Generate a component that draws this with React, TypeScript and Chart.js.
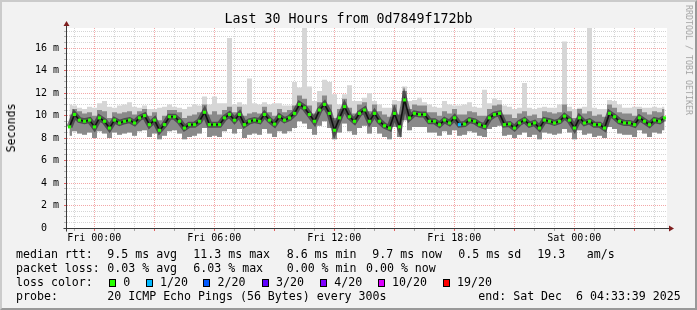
import { useEffect, useRef } from "react";
import { Chart, registerables } from "chart.js";

Chart.register(...registerables);

// ---- time axis (hours relative to Fri 00:00) ----
const START_HOUR = -1.365;
const END_HOUR = 28.635;
const STEP_HOURS = 0.25;

const xTickHours = [0, 6, 12, 18, 24];
const xTickLabels = ["Fri 00:00", "Fri 06:00", "Fri 12:00", "Fri 18:00", "Sat 00:00"];

const yTickValues = [0, 2, 4, 6, 8, 10, 12, 14, 16];
const yTickLabels = ["0  ", "2 m", "4 m", "6 m", "8 m", "10 m", "12 m", "14 m", "16 m"];

// ---- values in ms ----
const medianRtt = [
  9.0, 10.1, 9.6, 9.5, 9.6, 9.0, 9.8, 9.5, 8.9, 9.6,
  9.35, 9.5, 9.6, 9.35, 9.8, 10.0, 9.2, 9.6, 8.7, 9.2,
  9.9, 9.9, 9.5, 8.9, 9.2, 9.2, 9.5, 10.3, 9.2, 9.2,
  9.2, 9.8, 10.1, 9.6, 10.1, 9.2, 9.5, 9.6, 9.5, 10.1,
  9.6, 9.25, 9.9, 9.6, 9.8, 10.2, 11.0, 10.7, 10.1, 9.5,
  10.5, 11.0, 10.2, 8.7, 9.8, 10.8, 9.9, 9.5, 10.2, 10.5,
  9.5, 10.2, 9.5, 9.1, 8.9, 10.2, 9.0, 11.4, 9.8, 10.2,
  10.1, 10.1, 9.5, 9.5, 9.2, 9.6, 9.35, 9.8, 9.2, 9.25,
  9.6, 9.5, 9.2, 9.05, 9.8, 10.1, 10.2, 9.2, 9.25, 8.9,
  9.35, 9.6, 9.2, 9.35, 8.9, 9.6, 9.5, 9.35, 9.5, 9.95,
  9.6, 8.9, 9.8, 9.35, 9.5, 9.2, 9.2, 8.9, 10.2, 9.9,
  9.5, 9.35, 9.35, 9.2, 9.8, 9.5, 9.2, 9.6, 9.5, 9.8,
];

const smokeLow = [
  8.2, 8.6, 8.4, 8.3, 8.5, 8.0, 8.6, 8.4, 8.0, 8.5,
  8.3, 8.4, 8.5, 8.2, 8.6, 8.7, 8.1, 8.4, 7.9, 8.2,
  8.6, 8.7, 8.4, 7.9, 8.1, 8.2, 8.4, 8.9, 8.1, 8.2,
  8.1, 8.6, 8.8, 8.4, 8.8, 8.0, 8.3, 8.4, 8.3, 8.8,
  8.4, 8.1, 8.6, 8.4, 8.6, 8.9, 9.5, 9.3, 8.8, 8.3,
  9.1, 9.5, 8.9, 7.9, 8.5, 9.3, 8.6, 8.3, 8.9, 9.1,
  8.4, 9.0, 8.4, 8.1, 7.9, 9.0, 8.1, 9.6, 8.7, 9.0,
  9.0, 9.0, 8.5, 8.5, 8.2, 8.6, 8.3, 8.7, 8.2, 8.3,
  8.6, 8.5, 8.2, 8.1, 8.8, 9.0, 9.1, 8.2, 8.3, 8.0,
  8.3, 8.5, 8.1, 8.3, 7.9, 8.5, 8.4, 8.3, 8.4, 8.8,
  8.5, 7.9, 8.7, 8.3, 8.4, 8.1, 8.2, 8.0, 9.0, 8.8,
  8.4, 8.3, 8.3, 8.1, 8.7, 8.4, 8.1, 8.5, 8.4, 8.7,
];

const smokeDarkHigh = [
  10.1, 10.6, 10.4, 10.2, 10.3, 10.0, 10.5, 10.4, 9.8, 10.3,
  10.2, 10.3, 10.4, 10.1, 10.4, 10.6, 10.0, 10.3, 9.6, 10.0,
  10.5, 10.5, 10.3, 9.8, 10.0, 10.1, 10.3, 11.0, 10.1, 10.4,
  10.1, 10.5, 10.8, 10.3, 10.8, 10.0, 10.2, 10.3, 10.2, 10.8,
  10.3, 10.0, 10.6, 10.3, 10.5, 10.9, 11.8, 11.5, 10.9, 10.2,
  11.2, 11.8, 11.0, 9.8, 10.6, 11.5, 10.7, 10.2, 11.0, 11.2,
  10.4, 11.0, 10.4, 10.1, 9.9, 11.0, 10.1, 12.2, 10.6, 11.0,
  10.9, 10.9, 10.3, 10.3, 10.0, 10.4, 10.2, 10.6, 10.1, 10.1,
  10.4, 10.3, 10.0, 10.0, 10.6, 10.9, 11.0, 10.1, 10.1, 9.8,
  10.2, 10.4, 10.0, 10.1, 9.8, 10.4, 10.3, 10.2, 10.3, 11.0,
  10.4, 9.8, 10.6, 10.2, 10.4, 10.0, 10.1, 9.9, 11.0, 10.7,
  10.3, 10.2, 10.2, 10.0, 10.6, 10.3, 10.1, 10.4, 10.3, 10.6,
];

const smokeLightHigh = [
  11.0, 10.9, 10.7, 10.6, 10.8, 10.7, 11.1, 11.3, 10.8, 10.7,
  10.9, 11.0, 11.2, 10.8, 10.7, 10.9, 10.6, 10.6, 10.7, 10.8,
  11.0, 10.8, 10.7, 10.6, 10.8, 11.0, 10.9, 11.7, 11.0, 11.7,
  11.1, 11.1, 16.9, 11.0, 11.2, 11.0, 13.3, 11.1, 11.0, 11.2,
  11.0, 11.1, 11.1, 10.9, 10.9, 13.0, 12.5, 17.8, 12.6, 11.3,
  12.2, 13.2, 13.0, 11.9, 11.0, 11.9, 12.7, 11.3, 11.3, 11.6,
  12.0, 11.3, 11.0, 10.7, 10.7, 11.4, 11.3, 12.6, 11.3, 11.4,
  11.6, 11.2, 11.0, 10.8, 10.7, 11.3, 11.0, 10.9, 10.9, 11.0,
  11.2, 10.8, 10.7, 12.3, 11.1, 11.5, 11.4, 10.9, 10.8, 10.6,
  10.7, 12.9, 10.7, 10.6, 10.7, 10.8, 10.7, 10.7, 11.0, 16.6,
  10.8, 10.6, 10.7, 10.8, 17.8, 10.7, 10.6, 10.6, 11.4, 11.3,
  11.0, 10.7, 10.7, 10.8, 10.8, 10.7, 10.7, 10.8, 10.7, 10.8,
];

const lossColors = ["#26ff00", "#00b8ff", "#0059ff", "#5e00ff", "#7e00ff", "#dd00ff", "#ff0000"];
const lossLabels = ["0", "1/20", "2/20", "3/20", "4/20", "10/20", "19/20"];
const lossPoints = [{ index: 78, loss: 1 }];

// ---- legend text ----
const rttItems = ["9.5 ms avg", "11.3 ms max", "8.6 ms min", "9.7 ms now", "0.5 ms sd", "19.3", "am/s"];
const lossItems = ["0.03 % avg", "6.03 % max", "0.00 % min", "0.00 % now"];
const probeText = "20 ICMP Echo Pings (56 Bytes) every 300s";
const endText = "end: Sat Dec  6 04:33:39 2025";
const titleText = "Last 30 Hours from 0d7849f172bb";

// ---- layout (pixels) ----
const W = 697;
const H = 310;
const PLOT_LEFT = 67;
const PLOT_RIGHT = 667;
const PLOT_TOP = 28;
const PLOT_BOTTOM = 228;
const rttX = [107.3, 193.3, 286.7, 372.3, 458.3, 537.3, 586.7];
const lossX = [107.3, 193.3, 286.7, 366];
const boxX = [109, 145.7, 203.3, 261.7, 320, 377.7, 442.7];
const lineTops = [247, 261, 275, 289];

const MONO = '"DejaVu Sans Mono", "Liberation Mono", monospace';
const MAJOR = "rgba(232, 80, 80, 0.5)";
const MINOR = "rgba(150, 150, 150, 0.4)";

const xOf = (i: number) => START_HOUR + STEP_HOURS * (i + 0.5);
const series = (arr: number[]) => arr.map((v, i) => ({ x: xOf(i), y: v }));

const framePlugin = {
  id: "rrdFrame",
  beforeDraw(chart: any) {
    const { ctx, chartArea: a } = chart;
    ctx.save();
    ctx.fillStyle = "#ffffff";
    ctx.fillRect(a.left, a.top, a.right - a.left, a.bottom - a.top);
    ctx.restore();
  },
  afterDraw(chart: any) {
    const { ctx, chartArea: a } = chart;
    const ax = Math.round(a.left) - 0.5;
    const ay = Math.round(a.bottom) + 0.5;
    ctx.save();
    ctx.strokeStyle = "#3a3a3a";
    ctx.lineWidth = 1;
    ctx.beginPath();
    ctx.moveTo(ax, ay + 3);
    ctx.lineTo(ax, a.top - 4);
    ctx.moveTo(ax - 3, ay);
    ctx.lineTo(a.right + 3, ay);
    ctx.stroke();
    ctx.fillStyle = "#7f1f1f";
    ctx.beginPath();
    ctx.moveTo(ax, a.top - 7);
    ctx.lineTo(ax - 3, a.top - 2);
    ctx.lineTo(ax + 3, a.top - 2);
    ctx.closePath();
    ctx.fill();
    ctx.beginPath();
    ctx.moveTo(a.right + 7, ay);
    ctx.lineTo(a.right + 2, ay - 3);
    ctx.lineTo(a.right + 2, ay + 3);
    ctx.closePath();
    ctx.fill();
    ctx.restore();
  },
};

export default function App() {
  const canvasRef = useRef<HTMLCanvasElement | null>(null);

  useEffect(() => {
    const canvas = canvasRef.current;
    if (!canvas) return;
    const hourTicks: number[] = [];
    for (let h = Math.ceil(START_HOUR); h <= Math.floor(END_HOUR); h++) hourTicks.push(h);
    const yTicks: number[] = [];
    for (let v = 0; v <= 17.5; v += 0.5) yTicks.push(v);

    const chart = new Chart(canvas, {
      type: "line",
      data: {
        datasets: [
          {
            data: series(smokeLow),
            borderWidth: 0,
            pointRadius: 0,
            fill: false,
            stepped: "middle",
            order: 10,
          },
          {
            data: series(smokeLightHigh),
            borderWidth: 0,
            pointRadius: 0,
            backgroundColor: "#d6d6d6",
            fill: 0,
            stepped: "middle",
            order: 9,
          },
          {
            data: series(smokeDarkHigh),
            borderWidth: 0,
            pointRadius: 0,
            backgroundColor: "#8a8a8a",
            fill: 0,
            stepped: "middle",
            order: 8,
          },
          {
            data: series(medianRtt),
            borderColor: "rgba(30,30,30,0.55)",
            borderWidth: 6,
            pointRadius: 0,
            fill: false,
            tension: 0,
            order: 3,
          },
          {
            data: series(medianRtt),
            borderColor: "#111111",
            borderWidth: 1.6,
            pointRadius: 0,
            fill: false,
            tension: 0,
            order: 2,
          },
          {
            data: series(medianRtt),
            showLine: false,
            pointStyle: "rect",
            pointRadius: 2.2,
            pointBorderWidth: 0,
            pointBackgroundColor: (ctx: any) => {
              const lp = lossPoints.find((p) => p.index === ctx.dataIndex);
              return lp ? lossColors[lp.loss] : lossColors[0];
            },
            order: 1,
          },
        ],
      } as any,
      options: {
        responsive: false,
        animation: false,
        events: [],
        layout: { padding: { top: PLOT_TOP, right: W - PLOT_RIGHT, left: 0, bottom: 0 } },
        plugins: { legend: { display: false }, tooltip: { enabled: false }, title: { display: false } },
        scales: {
          x: {
            type: "linear",
            min: START_HOUR,
            max: END_HOUR,
            z: 1,
            afterBuildTicks: (s: any) => {
              s.ticks = hourTicks.map((v) => ({ value: v }));
            },
            afterFit: (s: any) => {
              s.height = H - PLOT_BOTTOM;
            },
            ticks: {
              autoSkip: false,
              maxRotation: 0,
              padding: 1,
              color: "#000",
              font: { family: MONO, size: 10 },
              callback: (v: any) => {
                const k = xTickHours.indexOf(Number(v));
                return k >= 0 ? xTickLabels[k] : "";
              },
            },
            grid: {
              lineWidth: 1,
              tickLength: 3,
              color: (c: any) => (c.tick && c.tick.value % 3 === 0 ? MAJOR : MINOR),
              tickColor: (c: any) => (c.tick && c.tick.value % 3 === 0 ? "rgba(220,60,60,0.8)" : "rgba(120,120,120,0.6)"),
              tickBorderDash: [],
            },
            border: { display: false, dash: [1, 1] },
          },
          y: {
            type: "linear",
            min: 0,
            max: 17.8,
            z: 1,
            afterBuildTicks: (s: any) => {
              s.ticks = yTicks.map((v) => ({ value: v }));
            },
            afterFit: (s: any) => {
              s.width = PLOT_LEFT;
            },
            ticks: {
              autoSkip: false,
              padding: 5,
              color: "#000",
              font: { family: MONO, size: 10 },
              callback: (v: any) => {
                const k = yTickValues.indexOf(Number(v));
                return k >= 0 ? yTickLabels[k] : "";
              },
            },
            grid: {
              lineWidth: 1,
              tickLength: 3,
              color: (c: any) => (c.tick && c.tick.value % 2 === 0 ? MAJOR : MINOR),
              tickColor: (c: any) => (c.tick && c.tick.value % 2 === 0 ? "rgba(220,60,60,0.8)" : "rgba(120,120,120,0.5)"),
              tickBorderDash: [],
            },
            border: { display: false, dash: [1, 1] },
          },
        },
      } as any,
      plugins: [framePlugin],
    });
    return () => chart.destroy();
  }, []);

  const textBase: any = {
    position: "absolute",
    fontFamily: MONO,
    fontSize: "11.6px",
    lineHeight: "14px",
    whiteSpace: "pre",
    color: "#000",
  };

  return (
    <div style={{ position: "fixed", left: 0, top: 0, width: W, height: H, background: "#f2f2f2", overflow: "hidden" }}>
      <canvas ref={canvasRef} width={W} height={H} style={{ position: "absolute", left: 0, top: 0, width: W, height: H }} />
      <div style={{ ...textBase, left: 0, width: W, top: 11, textAlign: "center", fontSize: "13.3px", lineHeight: "16px" }}>
        {titleText}
      </div>
      <div
        style={{
          ...textBase,
          left: 10.8,
          top: (PLOT_TOP + PLOT_BOTTOM) / 2,
          transform: "translate(-50%, -50%) rotate(-90deg)",
        }}
      >
        Seconds
      </div>
      <div
        style={{
          ...textBase,
          left: 688.5,
          top: 60,
          fontSize: "8.3px",
          lineHeight: "10px",
          color: "#a4a4a4",
          transform: "translate(-50%, -50%) rotate(90deg)",
        }}
      >
        RRDTOOL / TOBI OETIKER
      </div>

      <div style={{ ...textBase, left: 16, top: lineTops[0] }}>median rtt:</div>
      {rttItems.map((t, k) => (
        <div key={"r" + k} style={{ ...textBase, left: rttX[k], top: lineTops[0] }}>
          {t}
        </div>
      ))}

      <div style={{ ...textBase, left: 16, top: lineTops[1] }}>packet loss:</div>
      {lossItems.map((t, k) => (
        <div key={"l" + k} style={{ ...textBase, left: lossX[k], top: lineTops[1] }}>
          {t}
        </div>
      ))}

      <div style={{ ...textBase, left: 16, top: lineTops[2] }}>loss color:</div>
      {lossLabels.map((t, k) => (
        <div key={"c" + k}>
          <div
            style={{
              position: "absolute",
              left: boxX[k],
              top: 278.5,
              width: 7,
              height: 8,
              boxSizing: "border-box",
              border: "1px solid #000",
              background: lossColors[k],
            }}
          />
          <div style={{ ...textBase, left: boxX[k] + 14.3, top: lineTops[2] }}>{t}</div>
        </div>
      ))}

      <div style={{ ...textBase, left: 16, top: lineTops[3] }}>probe:</div>
      <div style={{ ...textBase, left: 107.3, top: lineTops[3] }}>{probeText}</div>
      <div style={{ ...textBase, left: 478.3, top: lineTops[3] }}>{endText}</div>

      <div
        style={{
          position: "absolute",
          left: 0,
          top: 0,
          width: W,
          height: H,
          boxSizing: "border-box",
          borderTop: "2px solid #cbcbcb",
          borderLeft: "2px solid #cbcbcb",
          borderBottom: "2px solid #999999",
          borderRight: "2px solid #999999",
          pointerEvents: "none",
        }}
      />
    </div>
  );
}
